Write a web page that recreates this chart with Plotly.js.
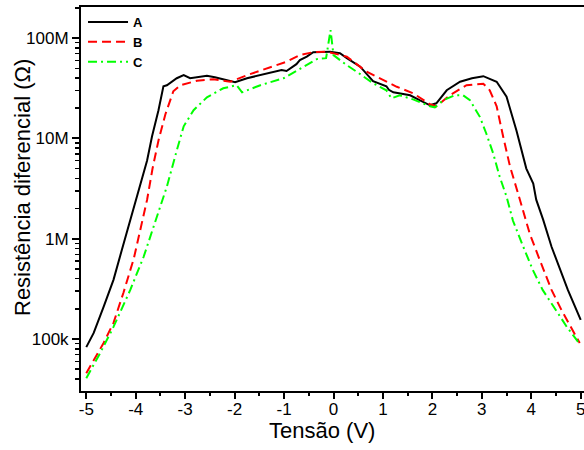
<!DOCTYPE html>
<html>
<head>
<meta charset="utf-8">
<script src="https://cdn.plot.ly/plotly-3.0.1.min.js"></script>
<style>
html,body{margin:0;padding:0;overflow:hidden;background:#fff;width:584px;height:450px;}
#chart{width:600px;height:450px;}
</style>
</head>
<body>
<div id="chart"></div>
<script>
// Curve A (black, solid)
const vA = [-5.00,-4.85,-4.65,-4.45,-4.28,-4.11,-3.91,-3.77,-3.67,-3.54,-3.44,-3.37,-3.17,-3.03,-2.90,-2.75,-2.56,-2.40,-2.23,-1.99,-1.75,-1.48,-1.18,-1.05,-0.95,-0.85,-0.75,-0.68,-0.54,-0.41,-0.25,-0.07,0.13,0.27,0.54,0.80,1.07,1.12,1.21,1.34,1.55,1.75,1.95,2.08,2.29,2.56,2.80,3.03,3.30,3.50,3.70,3.90,4.04,4.10,4.24,4.41,4.58,4.74,5.00];
const rA = [8.3e4,1.15e5,2.09e5,3.89e5,7.76e5,1.55e6,3.55e6,6.03e6,1.05e7,1.91e7,3.31e7,3.39e7,3.98e7,4.27e7,3.98e7,4.07e7,4.22e7,4.07e7,3.89e7,3.63e7,3.98e7,4.27e7,4.62e7,4.80e7,4.70e7,5.13e7,5.50e7,6.03e7,6.53e7,7.24e7,7.24e7,7.33e7,7.08e7,6.31e7,5.19e7,3.72e7,3.31e7,3.05e7,2.88e7,2.82e7,2.69e7,2.40e7,2.14e7,2.24e7,3.02e7,3.67e7,3.98e7,4.17e7,3.67e7,2.60e7,1.20e7,5.0e6,3.55e6,2.45e6,1.55e6,8.32e5,4.90e5,3.09e5,1.55e5];
// Curve B (red, dashed)
const vB = [-5.00,-4.65,-4.45,-4.25,-4.04,-3.88,-3.77,-3.66,-3.54,-3.40,-3.24,-3.10,-2.76,-2.43,-2.09,-1.69,-1.35,-0.95,-0.68,-0.41,-0.14,0.27,0.67,1.01,1.28,1.61,1.95,2.08,2.35,2.69,3.03,3.16,3.30,3.43,3.57,3.77,3.97,4.17,4.41,4.61,4.78,4.98];
const rB = [4.57e4,9.12e4,1.45e5,2.88e5,6.31e5,1.41e6,2.45e6,5.01e6,9.55e6,1.74e7,2.95e7,3.39e7,3.76e7,3.89e7,3.67e7,4.37e7,5.01e7,5.82e7,6.76e7,7.24e7,7.33e7,6.53e7,4.62e7,3.80e7,3.27e7,2.82e7,2.19e7,2.09e7,2.69e7,3.39e7,3.51e7,3.02e7,2.09e7,1.05e7,5.25e6,2.45e6,1.12e6,6.17e5,3.09e5,1.95e5,1.38e5,9.12e4];
// Curve C (green, dash-dot)
const vC = [-5.00,-4.72,-4.45,-4.11,-3.84,-3.57,-3.44,-3.37,-3.17,-3.03,-2.83,-2.56,-2.23,-1.96,-1.85,-1.48,-1.01,-0.61,-0.34,-0.15,-0.06,0.00,0.27,0.54,0.80,1.07,1.17,1.34,1.61,1.95,2.05,2.22,2.45,2.62,2.76,2.96,3.09,3.23,3.36,3.50,3.63,3.83,4.03,4.23,4.52,4.72,4.95];
const rC = [4.07e4,7.24e4,1.32e5,3.09e5,6.61e5,1.66e6,2.63e6,3.31e6,7.59e6,1.32e7,1.91e7,2.57e7,3.16e7,3.39e7,2.88e7,3.39e7,3.98e7,5.19e7,6.17e7,6.31e7,1.20e8,6.76e7,5.37e7,4.37e7,3.55e7,3.02e7,2.51e7,2.69e7,2.45e7,2.09e7,2.04e7,2.40e7,2.69e7,2.69e7,2.40e7,1.64e7,1.12e7,7.08e6,4.17e6,2.63e6,1.51e6,8.51e5,4.90e5,3.09e5,1.86e5,1.32e5,9.33e4];

const seriesNames = ['A','B','C'];
const xTickVals = [-5,-4,-3,-2,-1,0,1,2,3,4,5];
const xTickText = ['-5','-4','-3','-2','-1','0','1','2','3','4','5'];
const xMinorVals = [-4.5,-3.5,-2.5,-1.5,-0.5,0.5,1.5,2.5,3.5,4.5];
const yTickVals = [1e5,1e6,1e7,1e8];
const yTickText = ['100k','1M','10M','100M'];
const yMinorVals = [3e4,4e4,5e4,6e4,7e4,8e4,9e4,2e5,3e5,4e5,5e5,6e5,7e5,8e5,9e5,2e6,3e6,4e6,5e6,6e6,7e6,8e6,9e6,2e7,3e7,4e7,5e7,6e7,7e7,8e7,9e7,2e8];
const xTitle = 'Tensão (V)';
const yTitle = 'Resistência diferencial (Ω)';

const FONT = '"Liberation Sans", Arial, sans-serif';
const XRANGE = [-5.107, 5.107];

const traces = [
  {x: vA, y: rA, name: seriesNames[0], mode: 'lines', line: {color: '#000000', width: 2, dash: 'solid'}},
  {x: vB, y: rB, name: seriesNames[1], mode: 'lines', line: {color: '#ff0000', width: 2, dash: '9px,5px'}},
  {x: vC, y: rC, name: seriesNames[2], mode: 'lines', line: {color: '#00ff00', width: 2, dash: '9px,4px,2px,4px'}},
  // carrier so the tick-mark axis (x2) is drawn; fully transparent
  {x: vA, y: rA, xaxis: 'x2', mode: 'lines', line: {color: 'rgba(0,0,0,0)', width: 0}, showlegend: false, hoverinfo: 'skip'}
];

const layout = {
  width: 600, height: 450,
  margin: {l: 81, r: 14, t: 7, b: 59},
  paper_bgcolor: '#ffffff', plot_bgcolor: '#ffffff',
  font: {family: FONT, color: '#000', size: 17},
  showlegend: true,
  legend: {x: 0.004, y: 1, xanchor: 'left', yanchor: 'top', bgcolor: 'rgba(0,0,0,0)',
           font: {family: FONT, size: 13, weight: 'bold', color: '#000'}, itemwidth: 40, tracegroupgap: 0},
  xaxis: {
    range: XRANGE, showgrid: false, zeroline: false,
    showline: true, linecolor: '#000', linewidth: 2, mirror: true,
    ticks: 'outside', ticklen: 2, tickwidth: 1, tickcolor: 'rgba(0,0,0,0)',
    tickmode: 'array', tickvals: xTickVals, ticktext: xTickText,
    tickfont: {family: FONT, size: 17}
  },
  xaxis2: {
    overlaying: 'x', anchor: 'y', side: 'bottom', range: XRANGE,
    showgrid: false, zeroline: false, showline: false, showticklabels: false,
    ticks: 'outside', ticklen: 7, tickwidth: 2, tickcolor: '#000',
    tickmode: 'array', tickvals: xTickVals,
    minor: {tickmode: 'array', tickvals: xMinorVals, ticks: 'outside', ticklen: 4, tickwidth: 2, tickcolor: '#000', showgrid: false}
  },
  yaxis: {
    type: 'log', range: [4.482, 8.310], showgrid: false, zeroline: false,
    showline: true, linecolor: '#000', linewidth: 2, mirror: true,
    ticks: 'outside', ticklen: 7, tickwidth: 2, tickcolor: '#000',
    tickmode: 'array', tickvals: yTickVals, ticktext: yTickText,
    tickfont: {family: FONT, size: 17},
    minor: {tickmode: 'array', tickvals: yMinorVals, ticks: 'outside', ticklen: 4, tickwidth: 1.5, tickcolor: '#000', showgrid: false}
  },
  annotations: [
    {text: xTitle, xref: 'paper', yref: 'paper', x: 0.477, y: -0.104, xanchor: 'center', yanchor: 'middle',
     showarrow: false, font: {family: FONT, size: 22, color: '#000'}},
    {text: yTitle, xref: 'paper', yref: 'paper', x: -0.1158, y: 0.530, xanchor: 'center', yanchor: 'middle',
     textangle: -90, showarrow: false, font: {family: FONT, size: 22, color: '#000'}}
  ]
};

Plotly.newPlot('chart', traces, layout, {displayModeBar: false, staticPlot: true});
</script>
</body>
</html>
